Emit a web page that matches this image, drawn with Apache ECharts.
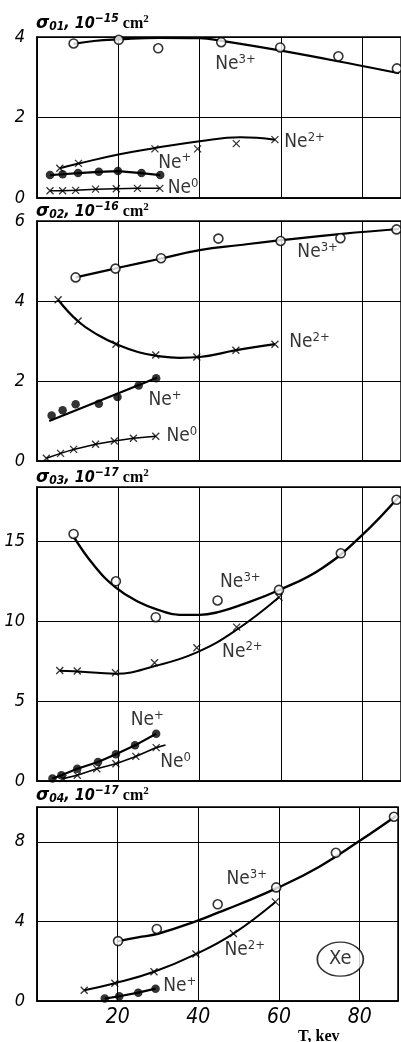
<!DOCTYPE html>
<html><head><meta charset="utf-8">
<script src="https://cdn.jsdelivr.net/npm/echarts@6/dist/echarts.min.js"></script>
<style>html,body{margin:0;padding:0;background:#fff}#c{width:401px;height:1042px}</style>
</head><body><div id="c"></div>
<script>
// ---------- data ----------
const xTicks = [20, 40, 60, 80];
const yTicks1 = [0, 2, 4];
const yTicks2 = [0, 2, 4, 6];
const yTicks3 = [0, 5, 10, 15];
const yTicks4 = [0, 4, 8];

// panel 1: sigma01, 1e-15 cm2
const p1Ne3Pts = [[9,3.84],[20.1,3.93],[29.8,3.72],[45.3,3.87],[59.8,3.74],[74.1,3.52],[88.5,3.22]];
const p1Ne3Fit = [[9,3.83],[14,3.9],[20,3.94],[30,3.98],[40,3.97],[45,3.91],[60,3.66],[80,3.28],[89,3.1]];
const p1Ne2Pts = [[5.6,0.74],[10.2,0.86],[29,1.22],[39.5,1.22],[49,1.35],[58.5,1.45]];
const p1Ne2Fit = [[5.6,0.74],[10,0.85],[20,1.08],[29,1.24],[40,1.41],[50,1.51],[58.5,1.45]];
const p1Ne1Pts = [[3.2,0.57],[6.3,0.59],[10.1,0.62],[15.2,0.65],[19.9,0.67],[25.7,0.62],[30.3,0.57]];
const p1Ne0Pts = [[3.2,0.18],[6.3,0.18],[9.5,0.19],[14.4,0.22],[19.5,0.23],[24.7,0.24],[30.2,0.24]];

// panel 2: sigma02, 1e-16 cm2
const p2Ne3Pts = [[9.5,4.59],[19.3,4.81],[30.5,5.07],[44.6,5.56],[59.9,5.5],[74.6,5.57],[88.4,5.79]];
const p2Ne3Fit = [[9.5,4.59],[20,4.83],[30,5.05],[40,5.27],[50,5.4],[60,5.52],[75,5.68],[89,5.8]];
const p2Ne2Pts = [[5.2,4.03],[10.1,3.5],[19.4,2.92],[29.2,2.65],[39.3,2.6],[48.9,2.77],[58.5,2.92]];
const p2Ne2Fit = [[5.2,4.03],[10,3.5],[15,3.15],[20,2.9],[25,2.72],[30,2.62],[35,2.58],[40,2.6],[49,2.77],[58.5,2.92]];
const p2Ne1Pts = [[3.6,1.14],[6.3,1.27],[9.5,1.42],[15.2,1.43],[19.8,1.6],[25,1.89],[29.3,2.07]];
const p2Ne1Fit = [[3,1.0],[29.5,2.08]];
const p2Ne0Pts = [[2.3,0.07],[5.8,0.19],[9,0.29],[14.4,0.42],[19,0.5],[23.7,0.57],[29.2,0.62]];

// panel 3: sigma03, 1e-17 cm2
const p3Ne3Pts = [[9,15.46],[19.4,12.5],[29.2,10.25],[44.4,11.3],[59.5,11.96],[74.7,14.25],[88.4,17.6]];
const p3Ne3Fit = [[9,15.3],[14,13.5],[19.4,12.1],[25,11.2],[30,10.7],[35,10.4],[40,10.4],[45,10.6],[50,11.0],[60,12.0],[70,13.3],[80,15.4],[89,17.8]];
const p3Ne2Pts = [[5.6,6.92],[9.9,6.88],[19.3,6.78],[28.9,7.4],[39.3,8.34],[49.1,9.63],[59.5,11.5]];
const p3Ne2Fit = [[5.6,6.9],[10,6.85],[19.3,6.72],[29,7.2],[39.3,8.05],[49,9.45],[59.5,11.5]];
const p3Ne1Pts = [[3.8,0.15],[6,0.36],[9.9,0.77],[15,1.19],[19.4,1.67],[24.1,2.23],[29.3,2.96]];
const p3Ne0Pts = [[6.4,0.15],[9.9,0.36],[14.7,0.77],[19.4,1.08],[24.3,1.54],[29.3,2.09]];
const p3Ne0Fit = [[6.4,0.15],[9.9,0.36],[14.7,0.77],[19.4,1.08],[24.3,1.54],[29.3,2.09],[31.6,2.25]];

// panel 4: sigma04, 1e-17 cm2
const p4Ne3Pts = [[20.1,3.01],[29.7,3.62],[44.8,4.86],[59.3,5.71],[74.1,7.45],[88.5,9.26]];
const p4Ne3Fit = [[20,3.0],[25,3.2],[30,3.38],[40,4.05],[45,4.45],[50,4.85],[60,5.72],[70,6.75],[80,8.05],[89,9.3]];
const p4Ne2Pts = [[11.7,0.54],[19.3,0.89],[29,1.47],[39.4,2.36],[48.7,3.39],[59.1,4.98]];
const p4Ne1Pts = [[16.8,0.12],[20.4,0.24],[25.1,0.42],[29.4,0.62]];

// label anchors (data coordinates of text centres)
const labels1 = [['Ne','3+',48.8,3.33],['Ne','2+',65.8,1.38],['Ne','+',33.9,0.88],['Ne','0',35.9,0.25]];
const labels2 = [['Ne','3+',69,5.23],['Ne','2+',67,2.98],['Ne','+',31.5,1.53],['Ne','0',35.6,0.63]];
const labels3 = [['Ne','3+',50,12.44],['Ne','2+',50.5,8.1],['Ne','+',27.1,3.8],['Ne','0',34.1,1.2]];
const labels4 = [['Ne','3+',52,6.13],['Ne','2+',51.5,2.56],['Ne','+',35.4,0.75]];
const xeLabel = [[75.2,2.1]];

// ---------- chart ----------
const NARROW = "'Liberation Sans Narrow','DejaVu Sans Condensed',sans-serif";
const grids = [
  {top:37, h:161, max:4, interval:2, ticks:yTicks1},
  {top:221, h:240, max:6, interval:2, ticks:yTicks2},
  {top:487, h:294, max:18.4, interval:5, ticks:yTicks3},
  {top:807, h:194, max:9.75, interval:4, ticks:yTicks4}
];
const X_PATH = 'path://M0,0L10,10M10,0L0,10';

const option = {
  animation:false,
  backgroundColor:'#fff',
  grid: grids.map(g => ({left:37, width:367, top:g.top, height:g.h, show:true, borderColor:'#000', borderWidth:1.5, backgroundColor:'transparent'})),
  xAxis: grids.map((g,i) => ({
    type:'value', gridIndex:i, min:0, max:89.5, interval:20,
    axisLine:{show:true, lineStyle:{color:'#000', width:1.5}},
    axisTick:{show:false},
    axisLabel:{show:i===3, color:'#000', fontFamily:NARROW, fontStyle:'italic', fontSize:21, margin:6,
      formatter:v => xTicks.includes(v) ? String(v) : ''},
    splitLine:{show:true, lineStyle:{color:'#000', width:1}}
  })),
  yAxis: grids.map((g,i) => ({
    type:'value', gridIndex:i, min:0, max:g.max, interval:g.interval,
    axisLine:{show:true, lineStyle:{color:'#000', width:1.5}},
    axisTick:{show:false},
    axisLabel:{color:'#000', fontFamily:NARROW, fontStyle:'italic', fontSize:18, margin:12,
      formatter:v => g.ticks.includes(v) ? String(v) : ''},
    splitLine:{show:true, lineStyle:{color:'#000', width:1}}
  })),
  title: [
    ['01','−15',8],['02','−16',196],['03','−17',462],['04','−17',780]
  ].map(t => ({
    left:31, top:t[2],
    text:'{s|σ}{sub|' + t[0] + '}{n|, 10}{sup|' + t[1] + '}{cm| cm}{sup2|2}',
    textStyle:{rich:{
      s:{fontFamily:'DejaVu Sans', fontStyle:'italic', fontSize:17, color:'#000'},
      sub:{fontFamily:NARROW, fontStyle:'italic', fontSize:12, color:'#000', padding:[7,0,0,0]},
      n:{fontFamily:NARROW, fontStyle:'italic', fontSize:16, color:'#000'},
      sup:{fontFamily:NARROW, fontStyle:'italic', fontSize:12, color:'#000', padding:[0,0,9,0]},
      cm:{fontFamily:'Liberation Serif', fontWeight:'bold', fontSize:16, color:'#000'},
      sup2:{fontFamily:'Liberation Serif', fontWeight:'bold', fontSize:11, color:'#000', padding:[0,0,8,0]}
    }}
  })).concat([{
    left:293, top:1024, text:'T, kev',
    textStyle:{fontFamily:'Liberation Serif', fontWeight:'bold', fontSize:16, color:'#000'}
  }]),
  series: []
};

function line(i, data, w, smooth) {
  return {type:'line', xAxisIndex:i, yAxisIndex:i, data:data, symbol:'none', smooth:smooth ? 0.45 : false,
    lineStyle:{color:'#000', width:w}, z:2, silent:true};
}
function pts(i, data, kind) {
  const s = {type:'scatter', xAxisIndex:i, yAxisIndex:i, data:data, z:3, silent:true};
  if (kind === 'open') { s.symbol='circle'; s.symbolSize=9; s.itemStyle={color:'#fff', borderColor:'#000', borderWidth:1.6}; }
  if (kind === 'fill') { s.symbol='circle'; s.symbolSize=8.5; s.itemStyle={color:'#000'}; }
  if (kind === 'x') { s.symbol=X_PATH; s.symbolSize=7; s.itemStyle={color:'none', borderColor:'#000', borderWidth:1.3}; }
  return s;
}
function labs(i, arr) {
  return {type:'scatter', xAxisIndex:i, yAxisIndex:i, symbolSize:0, z:4, silent:true,
    data: arr.map(a => ({value:[a[2], a[3]], name:a[0], sup:a[1]})),
    label:{show:true, position:'inside', color:'#000',
      formatter: p => '{n|' + p.data.name + '}{s|' + p.data.sup + '}',
      rich:{n:{fontFamily:NARROW, fontSize:19, color:'#000'}, s:{fontFamily:NARROW, fontSize:13, color:'#000', padding:[0,0,9,0]}}}};
}

const S = option.series;
// panel 1
S.push(line(0,p1Ne3Fit,2.2,true), pts(0,p1Ne3Pts,'open'));
S.push(line(0,p1Ne2Fit,2,true), pts(0,p1Ne2Pts,'x'));
S.push(line(0,p1Ne1Pts,2.2,false), pts(0,p1Ne1Pts,'fill'));
S.push(line(0,p1Ne0Pts,1.5,false), pts(0,p1Ne0Pts,'x'));
S.push(labs(0,labels1));
// panel 2
S.push(line(1,p2Ne3Fit,2.2,true), pts(1,p2Ne3Pts,'open'));
S.push(line(1,p2Ne2Fit,2.2,true), pts(1,p2Ne2Pts,'x'));
S.push(line(1,p2Ne1Fit,2.2,false), pts(1,p2Ne1Pts,'fill'));
S.push(line(1,p2Ne0Pts,1.5,false), pts(1,p2Ne0Pts,'x'));
S.push(labs(1,labels2));
// panel 3
S.push(line(2,p3Ne3Fit,2.4,true), pts(2,p3Ne3Pts,'open'));
S.push(line(2,p3Ne2Fit,2,true), pts(2,p3Ne2Pts,'x'));
S.push(line(2,p3Ne1Pts,2.2,false), pts(2,p3Ne1Pts,'fill'));
S.push(line(2,p3Ne0Fit,1.6,false), pts(2,p3Ne0Pts,'x'));
S.push(labs(2,labels3));
// panel 4
S.push(line(3,p4Ne3Fit,2.4,true), pts(3,p4Ne3Pts,'open'));
S.push(line(3,p4Ne2Pts,2,true), pts(3,p4Ne2Pts,'x'));
S.push(line(3,p4Ne1Pts,2.2,false), pts(3,p4Ne1Pts,'fill'));
S.push(labs(3,labels4));
S.push({type:'scatter', xAxisIndex:3, yAxisIndex:3, data:xeLabel, symbol:'circle', symbolSize:[46,34], z:4, silent:true,
  itemStyle:{color:'#fff', borderColor:'#000', borderWidth:1.5},
  label:{show:true, position:'inside', formatter:'Xe', color:'#000', fontFamily:NARROW, fontSize:20}});

const chart = echarts.init(document.getElementById('c'), null, {renderer:'canvas'});
chart.setOption(option);
</script>
</body></html>
